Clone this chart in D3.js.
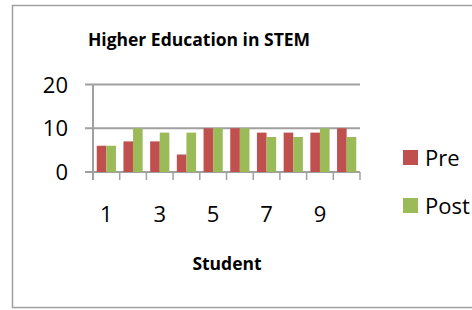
<!DOCTYPE html>
<html>
<head>
<meta charset="utf-8">
<script src="https://cdn.jsdelivr.net/npm/d3@7"></script>
<style>
  body { margin: 0; background: #fff; }
</style>
</head>
<body>
<div id="chart"></div>
<script>
var students = ["1", "2", "3", "4", "5", "6", "7", "8", "9", "10"];
var pre  = [6, 7, 7, 4, 10, 10, 9, 9, 9, 10];
var post = [6, 10, 9, 9, 10, 10, 8, 8, 10, 8];
var seriesNames = ["Pre", "Post"];
var colors = ["#C0504D", "#9BBB59"];
var yTicks = [0, 10, 20];

var svg = d3.select("#chart").append("svg")
    .attr("width", 472)
    .attr("height", 310)
    .attr("font-family", "'Open Sans', sans-serif");

// outer chart border (runs past the right edge)
svg.append("rect")
    .attr("x", 12.5).attr("y", 5.5)
    .attr("width", 480).attr("height", 302)
    .attr("fill", "none")
    .attr("stroke", "#a0a0a0")
    .attr("stroke-width", 1.5);

var plotL = 93, plotR = 360, plotT = 84.5, plotB = 172;

var x = d3.scaleBand().domain(students).range([plotL, plotR]);
var x1 = d3.scaleBand().domain(seriesNames)
    .range([0, x.bandwidth()]).paddingInner(0).paddingOuter(0.39);
var y = d3.scaleLinear().domain([0, 20]).range([plotB, plotT]);

// gridlines
svg.append("g").selectAll("line")
  .data(yTicks)
  .enter().append("line")
    .attr("x1", plotL - 8).attr("x2", plotR)
    .attr("y1", function(d) { return y(d); })
    .attr("y2", function(d) { return y(d); })
    .attr("stroke", "#a0a0a0")
    .attr("stroke-width", 2);

// y axis line
svg.append("line")
    .attr("x1", plotL).attr("x2", plotL)
    .attr("y1", plotT).attr("y2", plotB + 8)
    .attr("stroke", "#a0a0a0")
    .attr("stroke-width", 2);

// category ticks
var tickPos = students.map(function(d) { return x(d); }).concat([plotR]);
svg.append("g").selectAll("line")
  .data(tickPos)
  .enter().append("line")
    .attr("x1", function(d) { return d; })
    .attr("x2", function(d) { return d; })
    .attr("y1", plotB).attr("y2", plotB + 8)
    .attr("stroke", "#a0a0a0")
    .attr("stroke-width", 1.5);

// bars
var rows = students.map(function(s, i) { return { s: s, vals: [pre[i], post[i]] }; });
var grp = svg.append("g").selectAll("g")
  .data(rows)
  .enter().append("g")
    .attr("transform", function(d) { return "translate(" + x(d.s) + ",0)"; });

grp.selectAll("rect")
  .data(function(d) { return d.vals.map(function(v, j) { return { name: seriesNames[j], v: v, c: colors[j] }; }); })
  .enter().append("rect")
    .attr("x", function(d) { return x1(d.name); })
    .attr("width", x1.bandwidth())
    .attr("y", function(d) { return y(d.v); })
    .attr("height", function(d) { return plotB - y(d.v); })
    .attr("fill", function(d) { return d.c; });

// y labels
svg.append("g").selectAll("text")
  .data(yTicks)
  .enter().append("text")
    .attr("x", 68)
    .attr("y", function(d) { return y(d) + 8; })
    .attr("text-anchor", "end")
    .attr("font-size", 22)
    .text(function(d) { return d; });

// x labels (every other)
svg.append("g").selectAll("text")
  .data(students.filter(function(d, i) { return i % 2 === 0; }))
  .enter().append("text")
    .attr("x", function(d) { return x(d) + x.bandwidth() / 2; })
    .attr("y", 222)
    .attr("text-anchor", "middle")
    .attr("font-size", 22)
    .text(function(d) { return d; });

// title
svg.append("text")
    .attr("x", 199).attr("y", 46)
    .attr("text-anchor", "middle")
    .attr("font-size", 17.5)
    .attr("font-weight", "bold")
    .text("Higher Education in STEM");

// x axis title
svg.append("text")
    .attr("x", 227).attr("y", 270)
    .attr("text-anchor", "middle")
    .attr("font-size", 17.5)
    .attr("font-weight", "bold")
    .text("Student");

// legend
var leg = svg.append("g").selectAll("g")
  .data(seriesNames)
  .enter().append("g")
    .attr("transform", function(d, i) { return "translate(403," + (150 + i * 48) + ")"; });
leg.append("rect")
    .attr("width", 15).attr("height", 15)
    .attr("fill", function(d, i) { return colors[i]; });
leg.append("text")
    .attr("x", 22).attr("y", 15.5)
    .attr("font-size", 22)
    .text(function(d) { return d; });
</script>
</body>
</html>
